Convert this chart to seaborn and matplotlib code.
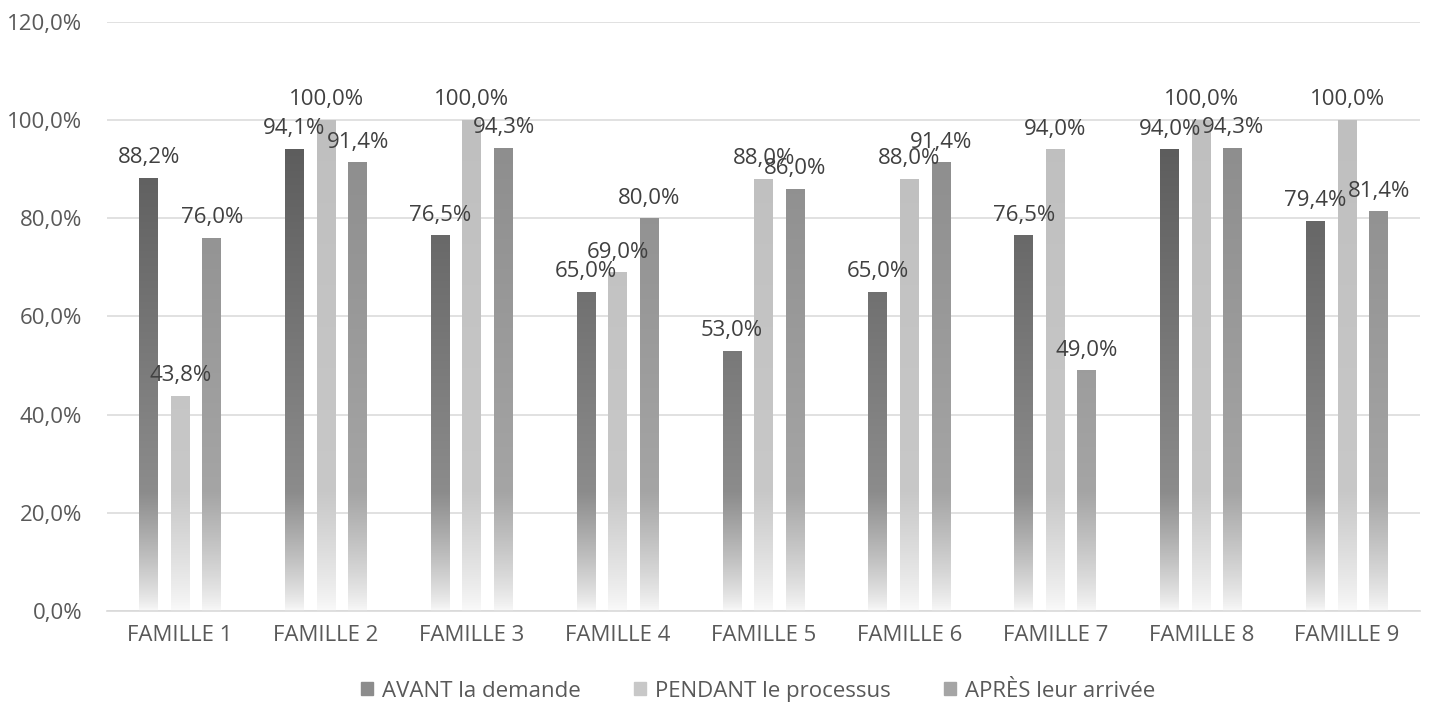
import numpy as np
import pandas as pd
import seaborn as sns
import matplotlib.pyplot as plt
from matplotlib.ticker import FuncFormatter

# data
familles = ["FAMILLE 1", "FAMILLE 2", "FAMILLE 3", "FAMILLE 4", "FAMILLE 5",
            "FAMILLE 6", "FAMILLE 7", "FAMILLE 8", "FAMILLE 9"]
series = ["AVANT la demande", "PENDANT le processus", "APRÈS leur arrivée"]
avant = [88.2, 94.1, 76.5, 65.0, 53.0, 65.0, 76.5, 94.0, 79.4]
pendant = [43.8, 100.0, 100.0, 69.0, 88.0, 88.0, 94.0, 100.0, 100.0]
apres = [76.0, 91.4, 94.3, 80.0, 86.0, 91.4, 49.0, 94.3, 81.4]

df = pd.DataFrame({
    "famille": familles * 3,
    "serie": [series[0]] * 9 + [series[1]] * 9 + [series[2]] * 9,
    "valeur": avant + pendant + apres,
})

# gradient stops per series: (top colour, colour near 20%, bottom colour)
stops = {
    series[0]: ((89, 89, 89), (140, 140, 140), (248, 248, 248)),
    series[1]: ((191, 191, 191), (200, 200, 200), (250, 250, 250)),
    series[2]: ((140, 140, 140), (165, 165, 165), (248, 248, 248)),
}
palette = {s: np.array(stops[s][0]) / 255 for s in series}

sns.set_style("white")
plt.rcParams["font.family"] = ["Open Sans", "DejaVu Sans"]

fig = plt.figure(figsize=(14.3, 7.04), dpi=100)
ax = fig.add_axes([0.075, 0.132, 0.918, 0.837])

sns.barplot(data=df, x="famille", y="valeur", hue="serie", hue_order=series,
            palette=palette, width=0.65, gap=0.4, ax=ax, legend=False)


def ramp(s, n=256):
    top, mid, bot = [np.array(c) / 255 for c in stops[s]]
    v = np.linspace(0, 120, n)
    out = np.zeros((n, 3))
    for i, y in enumerate(v):
        if y < 24:
            t = (y / 24) ** 0.8
            out[i] = bot + (mid - bot) * t
        else:
            t = min((y - 24) / 76, 1)
            out[i] = mid + (top - mid) * t
    return out


ramps = {s: ramp(s) for s in series}

# gradient fill for every bar, clipped to the bar shape
for patch_idx, p in enumerate(ax.patches):
    s = series[patch_idx // 9]
    x0 = p.get_x()
    w = p.get_width()
    h = p.get_height()
    img = ramps[s][:, None, :]
    im = ax.imshow(img, extent=[x0, x0 + w, 0, 120], origin="lower",
                   aspect="auto", zorder=p.get_zorder())
    im.set_clip_path(p)
    p.set_facecolor("none")
    p.set_edgecolor("none")
    ax.annotate(f"{h:.1f}".replace(".", ",") + "%", (x0 + w / 2, h),
                xytext=(0, 7), textcoords="offset points", ha="center",
                va="bottom", fontsize=16, color="#404040", zorder=5)

ax.set_aspect("auto")
ax.set_xlim(-0.5, 8.5)
ax.set_ylim(0, 120)

ax.set_yticks(np.arange(0, 121, 20))
ax.yaxis.set_major_formatter(FuncFormatter(lambda v, _: f"{v:.1f}".replace(".", ",") + "%"))
ax.yaxis.grid(True, color="#dcdcdc", linewidth=1.2)
ax.set_axisbelow(True)
for side in ["top", "right", "left"]:
    ax.spines[side].set_visible(False)
ax.spines["bottom"].set_color("#d9d9d9")
ax.spines["bottom"].set_linewidth(1.2)
ax.tick_params(axis="both", length=0, labelsize=16, labelcolor="#595959")
ax.tick_params(axis="y", pad=18)
ax.tick_params(axis="x", pad=10)
ax.set_xlabel("")
ax.set_ylabel("")

handles = [plt.Rectangle((0, 0), 1, 1, color=np.array(stops[s][1]) / 255) for s in series]
fig.legend(handles, series, loc="lower center", ncol=3, frameon=False,
           bbox_to_anchor=(0.53, -0.025), fontsize=16, handlelength=0.55,
           handleheight=0.55, handletextpad=0.4, columnspacing=2.4,
           labelcolor="#595959")

fig.savefig("out.png", dpi=100)
